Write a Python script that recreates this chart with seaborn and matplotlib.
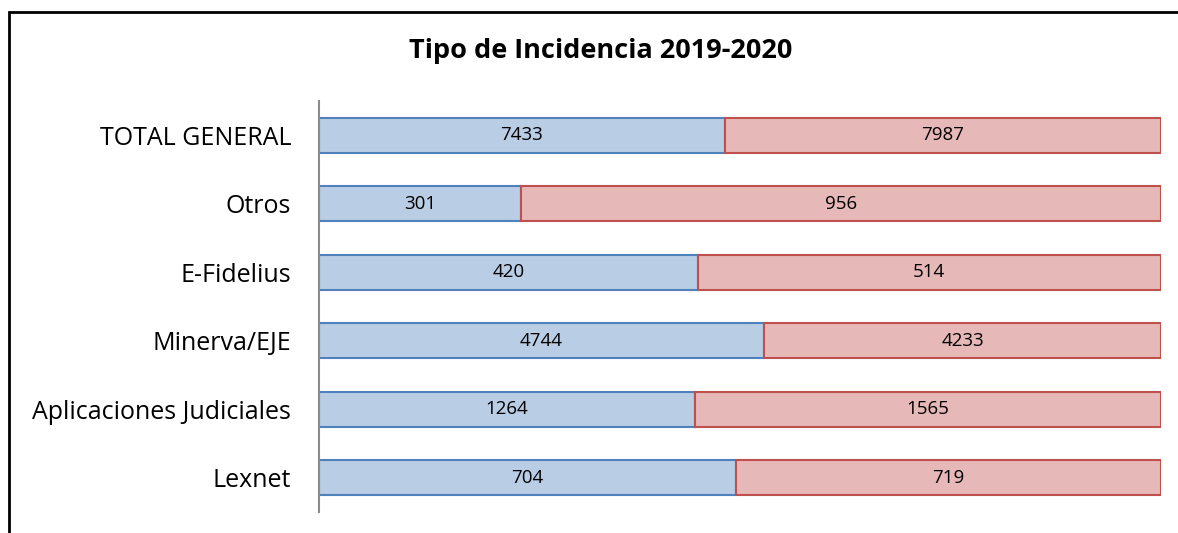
import matplotlib.pyplot as plt
import numpy as np
import pandas as pd
import seaborn as sns
from matplotlib.patches import Rectangle

categories = [
    "TOTAL GENERAL",
    "Otros",
    "E-Fidelius",
    "Minerva/EJE",
    "Aplicaciones Judiciales",
    "Lexnet",
]
values_2019 = [7433, 301, 420, 4744, 1264, 704]
values_2020 = [7987, 956, 514, 4233, 1565, 719]
title = "Tipo de Incidencia 2019-2020"

sns.set_theme(style="white")
plt.rcParams["font.family"] = ["Open Sans", "DejaVu Sans"]

df = pd.DataFrame(
    {"categoria": categories, "v2019": values_2019, "v2020": values_2020}
)
df["total"] = df["v2019"] + df["v2020"]
df["p2019"] = df["v2019"] / df["total"] * 100
df["p2020"] = df["v2020"] / df["total"] * 100

fig = plt.figure(figsize=(11.78, 5.33), dpi=100)
ax = fig.add_axes([0.2708, 0.0394, 0.7148, 0.7711])

# 2019 share, drawn with seaborn
sns.barplot(
    data=df,
    x="p2019",
    y="categoria",
    orient="h",
    color="#B9CDE5",
    edgecolor="#4F81BD",
    linewidth=1.5,
    width=0.51,
    saturation=1,
    ax=ax,
)
# 2020 share stacked after it
ax.barh(
    np.arange(len(df)),
    df["p2020"],
    left=df["p2019"],
    height=0.51,
    color="#E6B9B8",
    edgecolor="#C0504D",
    linewidth=1.5,
)

for i, row in df.iterrows():
    ax.text(row["p2019"] / 2, i, f"{row['v2019']}", ha="center", va="center",
            fontsize=13.5, color="black")
    ax.text(row["p2019"] + row["p2020"] / 2, i, f"{row['v2020']}",
            ha="center", va="center", fontsize=13.5, color="black")

ax.set_xlim(0, 100)
ax.set_ylim(5.5, -0.5)
ax.set_xlabel("")
ax.set_ylabel("")
ax.set_xticks([])
ax.tick_params(axis="y", length=0, labelsize=18, pad=20, colors="black")
for side in ["top", "right", "bottom"]:
    ax.spines[side].set_visible(False)
ax.spines["left"].set_color("#8C8C8C")
ax.spines["left"].set_linewidth(1.5)

fig.text(0.51, 0.905, title, ha="center", va="center", fontsize=19.5,
         fontweight="bold", color="black")

fig.patches.append(Rectangle((0.0076, -0.1), 1.2, 1.0775, transform=fig.transFigure,
                             fill=False, edgecolor="black", linewidth=2))

fig.savefig("out.png", dpi=100)
